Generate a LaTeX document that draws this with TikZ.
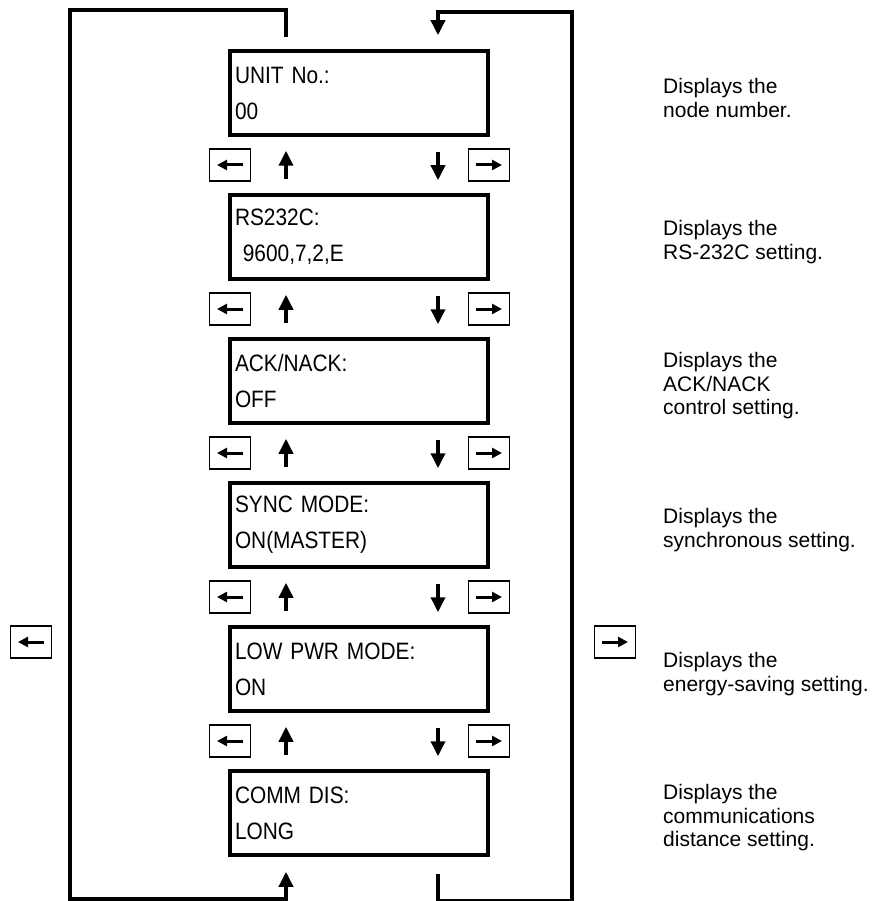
\documentclass[tikz,border=0pt]{standalone}
\usepackage{fontspec}
\setmainfont{Liberation Sans}
\newfontfamily\lcdfont[FakeStretch=0.88]{Liberation Sans}
\newcommand\lcdtype{\lcdfont\fontsize{23.7}{36}\selectfont\fontdimen2\font=4.5pt\relax}
\usetikzlibrary{arrows.meta}

\tikzset{
  lcd/.style={draw,line width=3.5pt,minimum width=258pt,minimum height=84pt,
    text width=248pt,align=left,inner sep=0pt,font=\lcdtype},
  keybox/.style={draw,line width=1.6pt,minimum width=41pt,minimum height=32pt,inner sep=0pt},
  keyarrow/.style={line width=3pt,-{Triangle[length=10pt,width=10pt]}},
  keyleft/.style={keybox,path picture={\draw[keyarrow]
    ([xshift=13pt]path picture bounding box.center) -- ([xshift=-13pt]path picture bounding box.center);}},
  keyright/.style={keybox,path picture={\draw[keyarrow]
    ([xshift=-13pt]path picture bounding box.center) -- ([xshift=13pt]path picture bounding box.center);}},
  desc/.style={anchor=west,align=left,inner sep=0pt,font=\fontsize{21}{23.5}\selectfont},
  loopline/.style={line width=3.5pt,-{Triangle[length=15pt,width=14pt]}},
  updown/.style={line width=3.5pt,-{Triangle[length=15pt,width=14pt]}}
}

\begin{document}
\begin{tikzpicture}[x=1pt,y=-1pt]
\useasboundingbox (0,0) rectangle (872,901);

% display screens and their descriptions
\foreach \i/\ta/\tb/\desc [evaluate=\i as \y using 93+144*(\i-1)] in {
  1/{UNIT No.:}/{00}/{Displays the\\node number.},
  2/{RS232C:}/{\ 9600,7,2,E}/{Displays the\\RS-232C setting.},
  3/{ACK/NACK:}/{OFF}/{Displays the\\ACK/NACK\\control setting.},
  4/{SYNC MODE:}/{ON(MASTER)}/{Displays the\\synchronous setting.},
  5/{LOW PWR MODE:}/{ON}/{Displays the\\energy-saving setting.},
  6/{COMM DIS:}/{LONG}/{Displays the\\communications\\distance setting.}}
{
  \node[lcd] (lcd\i) at (359,\y) {\ta\\\tb};
  \node[desc] (desc\i) at (663,\y+5) {\desc};
}

% keys and arrows between screens
\foreach \i [evaluate=\i as \y using 165+144*(\i-1), evaluate=\i as \j using int(\i+1)] in {1,...,5}
{
  \node[keyleft] (keyl\i) at (230,\y) {};
  \node[keyright] (keyr\i) at (489,\y) {};
  \draw[updown] ([xshift=-73pt,yshift=14pt]lcd\j.north) -- ([xshift=-73pt,yshift=-14pt]lcd\i.south);
  \draw[updown] ([xshift=79pt,yshift=-15pt]lcd\i.south) -- ([xshift=79pt,yshift=13pt]lcd\j.north);
}

% outer loop
\node[keyleft] (keyl) at (31,642) {};
\node[keyright] (keyr) at (615,642) {};

\draw[loopline] ([xshift=-73pt,yshift=12pt]lcd1.north) -- ++(0,-27) -| (70,899)
  -| ([xshift=-73pt,yshift=-15pt]lcd6.south);
\draw[loopline] ([xshift=79pt,yshift=-17pt]lcd6.south) -- ++(0,27) -| (572,12)
  -| ([xshift=79pt,yshift=14pt]lcd1.north);

\end{tikzpicture}
\end{document}
